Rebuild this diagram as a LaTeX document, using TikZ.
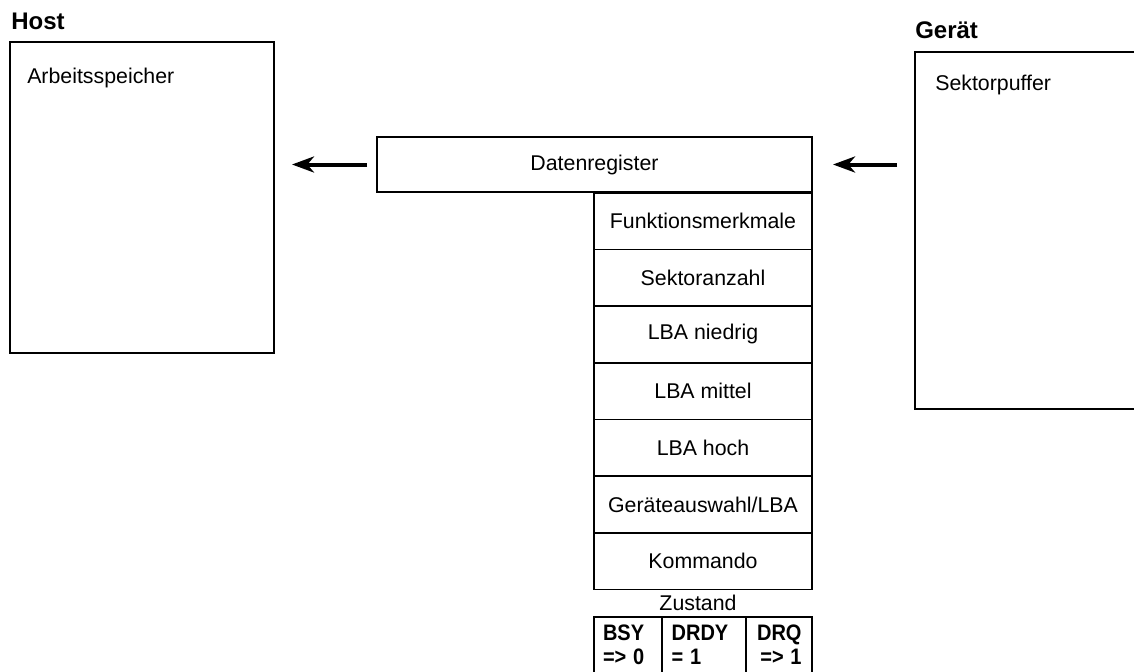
\documentclass[tikz,border=0pt]{standalone}
\usepackage{fontspec}
\setmainfont{Liberation Sans}
\usetikzlibrary{arrows.meta, positioning, calc}
\newcommand{\flagtext}[2]{\scalebox{1}[1.12]{#1}\\\scalebox{1}[1.12]{#2}}

\begin{document}
\begin{tikzpicture}[
  x=0.75pt, y=-0.75pt, font=\fontsize{16}{19}\selectfont,
  > = {Stealth[length=16.5pt, width=12pt, inset=5pt]},
  box/.style = {draw, line width=1.5pt, inner sep=0pt, outer sep=0pt, anchor=north west},
  reg/.style = {box, line width=1.3pt, minimum width=163.5pt, minimum height=42.5pt},
  flag/.style = {box, line width=1.3pt, minimum height=42pt, align=left, font=\fontsize{15}{18.5}\selectfont\bfseries},
  head/.style = {anchor=base west, inner sep=0pt, font=\fontsize{18}{21}\selectfont\bfseries},
  boxtext/.style = {anchor=base west, inner sep=0pt},
  flow/.style = {->, line width=3pt}
  ]
  \useasboundingbox (0,0) rectangle (1134,671);
  \clip (0,0) rectangle (1134,671);
  % host side
  \node[head] (@hosthead) at (11,29) {Host};
  \node[box, minimum width=198pt, minimum height=233.25pt] (@host) at (10,42) {};
  \node[boxtext] (@ram) at (27,83) {Arbeitsspeicher};
  % device side
  \node[head] (@devhead) at (915,38) {Gerät};
  \node[box, minimum width=168.75pt, minimum height=267.75pt] (@dev) at (915,52) {};
  \node[boxtext] (@buf) at (935,90) {Sektorpuffer};
  % register block
  \node[box, minimum width=326.25pt, minimum height=41.25pt] (@data) at (377,137) {Datenregister};
  \foreach \txt [count=\i] in {Funktionsmerkmale, Sektoranzahl, LBA niedrig, LBA mittel, LBA hoch, Geräteauswahl/LBA, Kommando}
    \node[reg] (@r\i) at (594,{192.7+56.67*(\i-1)}) {\txt};
  \node[anchor=base, inner sep=0pt] (@state) at (698,610.7) {Zustand};
  \node[flag, minimum width=50.75pt, text width=37.25pt, inner xsep=6.75pt] (@bsy) at (594,616.7) {\flagtext{BSY}{=> 0}};
  \node[flag, minimum width=63pt, text width=48pt, inner xsep=7.5pt] (@drdy) at (@bsy.north east) {\flagtext{DRDY}{= 1}};
  \node[flag, align=right, minimum width=49.75pt, text width=34pt, inner xsep=7.9pt] (@drq) at (@drdy.north east) {\flagtext{DRQ}{=> 1}};
  % data flow
  \draw[flow, shorten <=7.5pt, shorten >=13.5pt] (@data.west) -- (@data.west -| @host.east);
  \draw[flow, shorten <=13.5pt, shorten >=15.75pt] (@data.east -| @dev.west) -- (@data.east);
\end{tikzpicture}
\end{document}
